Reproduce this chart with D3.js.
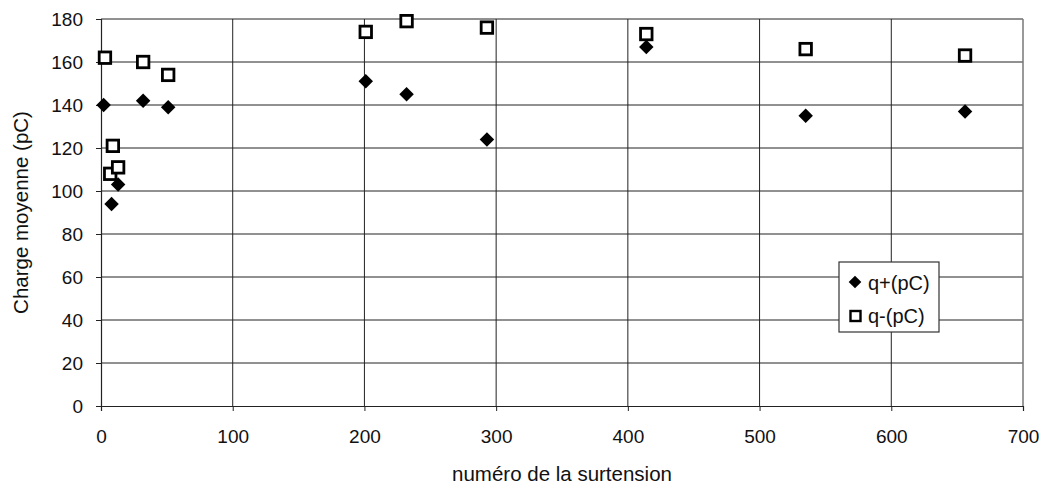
<!DOCTYPE html>
<html><head><meta charset="utf-8">
<script src="https://cdn.jsdelivr.net/npm/d3@7"></script>
<style>body{margin:0;background:#fff;} svg{display:block;font-family:"Liberation Sans",Arial,sans-serif;}</style>
</head><body>
<svg id="c" width="1043" height="491"></svg>
<script>
const qPlusX = [2, 8, 13, 32, 51, 201, 232, 293, 414, 535, 656];
const qPlusY = [140, 94, 103, 142, 139, 151, 145, 124, 167, 135, 137];
const qMinusX = [3, 7, 9, 13, 32, 51, 201, 232, 293, 414, 535, 656];
const qMinusY = [162, 108, 121, 111, 160, 154, 174, 179, 176, 173, 166, 163];
const xTicks = [0, 100, 200, 300, 400, 500, 600, 700];
const yTicks = [0, 20, 40, 60, 80, 100, 120, 140, 160, 180];
const seriesNames = ["q+(pC)", "q-(pC)"];
const xTitle = "numéro de la surtension";
const yTitle = "Charge moyenne (pC)";

const FS = 19, FT = 20.5, FL = 20;
const svg = d3.select("#c");
const L = 101, R = 1023, T = 19, B = 406;
const x = d3.scaleLinear().domain([0, 700]).range([L, R]);
const y = d3.scaleLinear().domain([0, 180]).range([B, T]);

// grid
svg.append("g").selectAll("line").data(yTicks.filter(d => d > 0)).join("line")
  .attr("x1", L).attr("x2", R).attr("y1", d => y(d)).attr("y2", d => y(d))
  .attr("stroke", "#222").attr("stroke-width", 1);
svg.append("g").selectAll("line").data(xTicks.filter(d => d > 0 && d < 700)).join("line")
  .attr("y1", T).attr("y2", B).attr("x1", d => x(d)).attr("x2", d => x(d))
  .attr("stroke", "#222").attr("stroke-width", 1);
svg.append("line").attr("x1", R).attr("x2", R).attr("y1", T).attr("y2", B).attr("stroke", "#777").attr("stroke-width", 1.5);

// axes
const xAxis = d3.axisBottom(x).tickValues(xTicks).tickSize(5).tickPadding(19);
const gx = svg.append("g").attr("transform", `translate(0,${B})`).call(xAxis);
const yAxis = d3.axisLeft(y).tickValues(yTicks).tickSize(5).tickPadding(13);
const gy = svg.append("g").attr("transform", `translate(${L},0)`).call(yAxis);
[gx, gy].forEach(g => {
  g.select(".domain").attr("stroke", "#222").attr("stroke-width", 1.2);
  g.selectAll(".tick line").attr("stroke", "#222");
  g.selectAll(".tick text").attr("font-size", FS).attr("fill", "#111")
    .attr("font-family", '"Liberation Sans",Arial,sans-serif');
});

// titles
svg.append("text").attr("x", 562).attr("y", 481).attr("text-anchor", "middle")
  .attr("font-size", FT).attr("fill", "#111").text(xTitle);
svg.append("text").attr("transform", `translate(28,${(T + B) / 2}) rotate(-90)`)
  .attr("text-anchor", "middle").attr("font-size", FT).attr("fill", "#111").text(yTitle);

// markers
const sq = 11.5;
svg.append("g").selectAll("rect").data(qMinusX.map((v, i) => [v, qMinusY[i]])).join("rect")
  .attr("x", d => x(d[0]) - sq / 2).attr("y", d => y(d[1]) - sq / 2)
  .attr("width", sq).attr("height", sq)
  .attr("fill", "#fff").attr("stroke", "#000").attr("stroke-width", 2.8);
svg.append("g").selectAll("path").data(qPlusX.map((v, i) => [v, qPlusY[i]])).join("path")
  .attr("transform", d => `translate(${x(d[0])},${y(d[1])}) rotate(45)`)
  .attr("d", d3.symbol().type(d3.symbolSquare).size(105)())
  .attr("fill", "#000");

// legend
const lg = svg.append("g").attr("transform", "translate(839,262)");
lg.append("rect").attr("width", 100).attr("height", 70).attr("fill", "#fff")
  .attr("stroke", "#333").attr("stroke-width", 1.2);
lg.append("path").attr("transform", "translate(16,20) rotate(45)")
  .attr("d", d3.symbol().type(d3.symbolSquare).size(80)()).attr("fill", "#000");
lg.append("rect").attr("x", 11.5).attr("y", 49).attr("width", 10).attr("height", 10)
  .attr("fill", "#fff").attr("stroke", "#000").attr("stroke-width", 2.4);
lg.selectAll("text").data(seriesNames).join("text")
  .attr("x", 29).attr("y", (d, i) => 21 + i * 33).attr("dy", "0.35em")
  .attr("font-size", FL).attr("fill", "#111").text(d => d);
</script>
</body></html>
